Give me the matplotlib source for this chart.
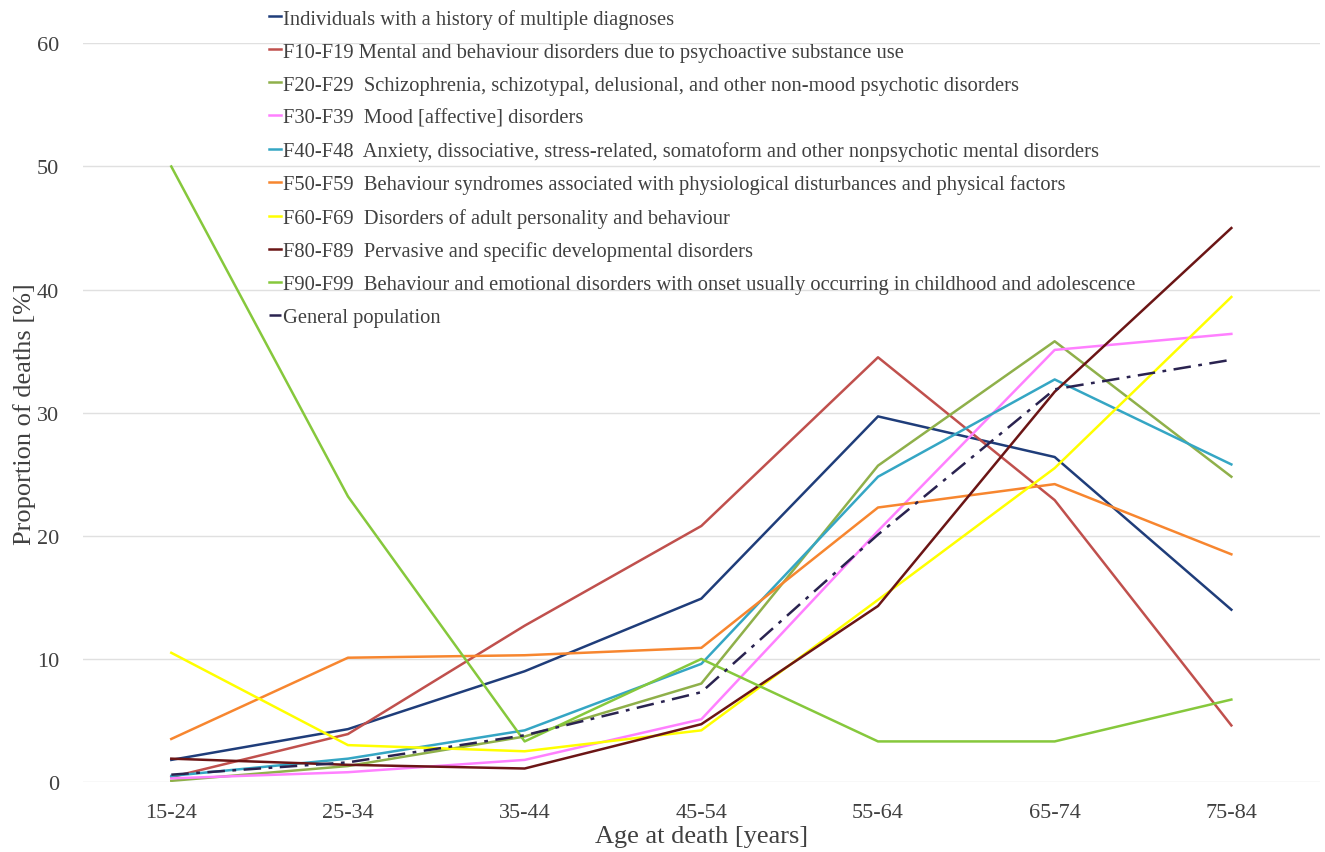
import matplotlib
matplotlib.use('Agg')
import matplotlib.pyplot as plt

# Age groups on the x axis
ages = ['15-24', '25-34', '35-44', '45-54', '55-64', '65-74', '75-84']

# Proportion of deaths [%] per group
multiple = [1.8, 4.3, 9.0, 14.9, 29.7, 26.4, 14.0]
f10_f19 = [0.4, 3.9, 12.7, 20.8, 34.5, 22.9, 4.6]
f20_f29 = [0.1, 1.3, 3.7, 8.0, 25.7, 35.8, 24.8]
f30_f39 = [0.3, 0.8, 1.8, 5.1, 20.4, 35.1, 36.4]
f40_f48 = [0.5, 1.9, 4.2, 9.6, 24.8, 32.7, 25.8]
f50_f59 = [3.5, 10.1, 10.3, 10.9, 22.3, 24.2, 18.5]
f60_f69 = [10.5, 3.0, 2.5, 4.2, 14.8, 25.5, 39.4]
f80_f89 = [1.9, 1.4, 1.1, 4.7, 14.3, 31.7, 45.0]
f90_f99 = [50.0, 23.2, 3.3, 10.0, 3.3, 3.3, 6.7]
general = [0.6, 1.6, 3.8, 7.3, 20.1, 31.9, 34.3]

labels = [
    'Individuals with a history of multiple diagnoses',
    'F10-F19 Mental and behaviour disorders due to psychoactive substance use',
    'F20-F29  Schizophrenia, schizotypal, delusional, and other non-mood psychotic disorders',
    'F30-F39  Mood [affective] disorders',
    'F40-F48  Anxiety, dissociative, stress-related, somatoform and other nonpsychotic mental disorders',
    'F50-F59  Behaviour syndromes associated with physiological disturbances and physical factors',
    'F60-F69  Disorders of adult personality and behaviour',
    'F80-F89  Pervasive and specific developmental disorders',
    'F90-F99  Behaviour and emotional disorders with onset usually occurring in childhood and adolescence',
    'General population',
]

series = [multiple, f10_f19, f20_f29, f30_f39, f40_f48,
          f50_f59, f60_f69, f80_f89, f90_f99, general]
colors = ['#1f3d7a', '#c0504d', '#8fb04a', '#ff80ff', '#35a6c4',
          '#f7862f', '#ffff00', '#6b1515', '#86c83c', '#2a2350']

plt.rcParams['font.family'] = ['Liberation Serif', 'DejaVu Serif']

fig = plt.figure(figsize=(13.25, 8.53), dpi=100)
ax = fig.add_axes([0.0626, 0.082, 0.9334, 0.866])

x = range(len(ages))
for vals, c, lab in zip(series, colors, labels):
    ls = (0, (7, 3, 1.5, 3)) if lab == 'General population' else '-'
    ax.plot(x, vals, color=c, lw=1.8, ls=ls, label=lab)

ax.set_xlim(-0.5, 6.5)
ax.set_ylim(0, 60)
ax.set_yticks(range(0, 61, 10))
ax.set_xticks(list(x))
ax.set_xticklabels(ages)
ax.grid(axis='y', color='#e0e0e0', lw=1)
ax.set_axisbelow(True)
for s in ax.spines.values():
    s.set_visible(False)
ax.tick_params(length=0, labelsize=16, colors='#404040')
ax.tick_params(axis='x', pad=15)
ax.tick_params(axis='y', pad=17)
ax.set_xlabel('Age at death [years]', fontsize=19, color='#404040', labelpad=2)
ax.set_ylabel('Proportion of deaths [%]', fontsize=19, color='#404040', labelpad=1)

leg = ax.legend(loc='upper left', bbox_to_anchor=(0.1435, 1.058), frameon=False,
                fontsize=14.8, handlelength=0.6, handletextpad=0.1,
                labelspacing=0.66, borderaxespad=0)
for t in leg.get_texts():
    t.set_color('#404040')

fig.savefig('out.png', dpi=100)
